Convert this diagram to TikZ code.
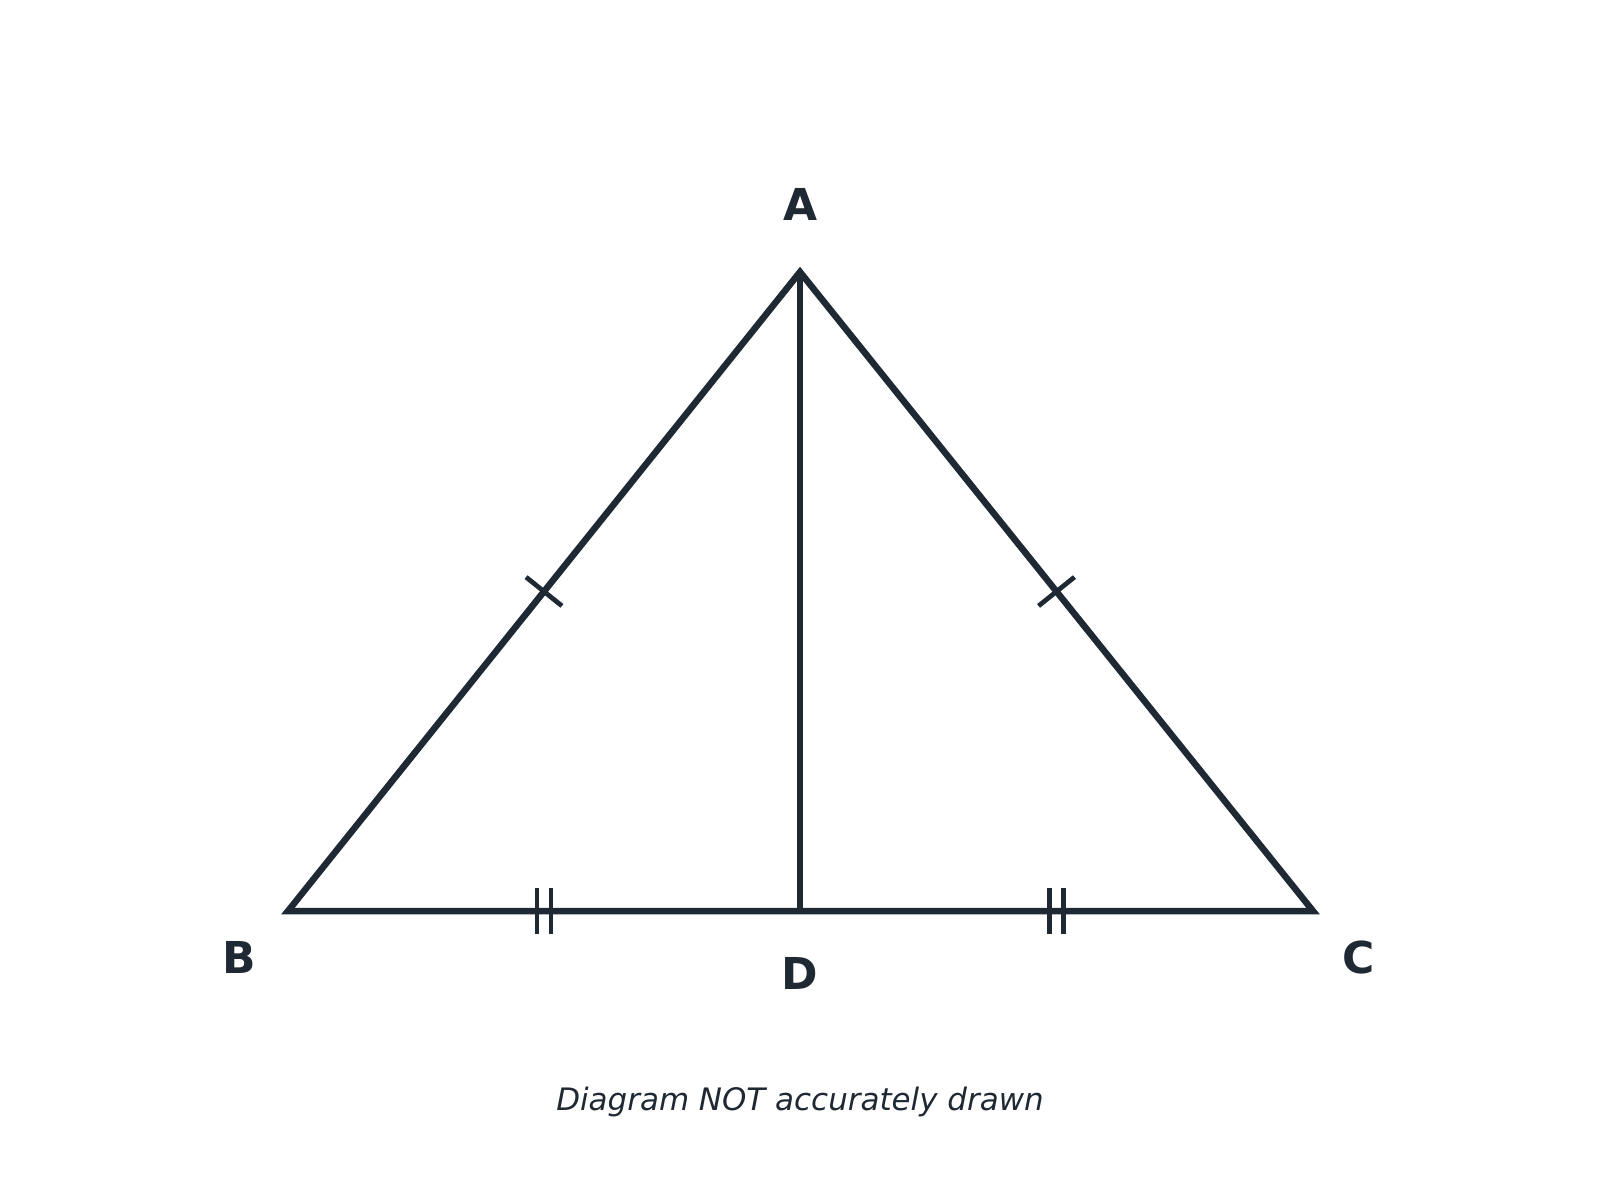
\documentclass[tikz,border=0pt]{standalone}
\usepackage{fontspec}
\setmainfont{DejaVu Sans}
\usetikzlibrary{calc,positioning}
\definecolor{ink}{HTML}{1F2933}

\begin{document}
\begin{tikzpicture}[x=0.01cm,y=-0.01cm,
  side/.style={draw=ink,line width=1.85pt,line join=miter},
  tick/.style={draw=ink,line width=1.35pt},
  vlabel/.style={text=ink,font=\fontsize{12.5pt}{15pt}\selectfont\bfseries}]
\useasboundingbox (0,0) rectangle (1600,1200);
% define points A, B, C, D
\coordinate (A) at (800,272);
\coordinate (B) at (288,911);
\coordinate (C) at (1313,911);
\coordinate (D) at (800,911);
% labels
\node[vlabel] (lA) at (800,204) {A};
\node[vlabel] (lB) at (239,957) {B};
\node[vlabel] (lC) at (1359,957) {C};
\node[vlabel] (lD) at (800,973) {D};
% draw triangle and the line AD
\draw[side] (A) -- (B) -- (C) -- cycle;
\draw[side] (A) -- (D);
% mark same length segments
\coordinate (M1) at ($(A)!0.5!(B)$);
\coordinate (M2) at ($(A)!0.5!(C)$);
\draw[tick] ($(M1)!0.23cm!90:(A)$) -- ($(M1)!0.23cm!-90:(A)$);
\draw[tick] ($(M2)!0.23cm!90:(A)$) -- ($(M2)!0.23cm!-90:(A)$);
\coordinate (N1) at ($(B)!0.5!(D)$);
\coordinate (N2) at ($(D)!0.5!(C)$);
\foreach \m in {N1,N2} {
  \draw[tick] ($(\m)+(-7,-23)$) -- ($(\m)+(-7,23)$);
  \draw[tick] ($(\m)+(7,-23)$) -- ($(\m)+(7,23)$);
}
% caption
\node[text=ink,font=\fontsize{8.8pt}{11pt}\selectfont\itshape] (note) at (800,1102) {Diagram NOT accurately drawn};
\end{tikzpicture}
\end{document}
